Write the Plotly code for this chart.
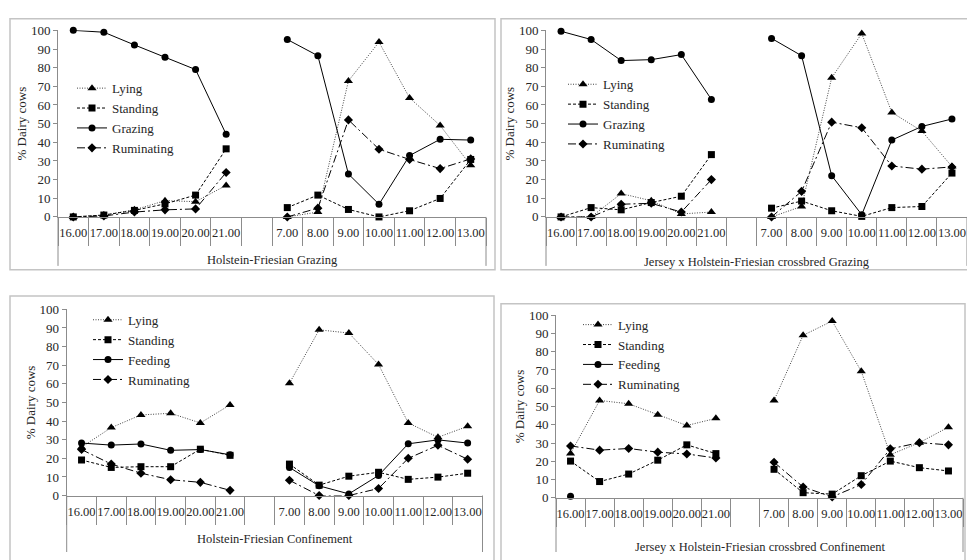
import plotly.graph_objects as go

W, H = 967, 560

times = ["16.00", "17.00", "18.00", "19.00", "20.00", "21.00", " ",
         "7.00", "8.00", "9.00", "10.00", "11.00", "12.00", "13.00"]

# Holstein-Friesian Grazing
hf_graz_lying = [0, 1, 3.8, 8.7, 8.2, 16.9, None, 0, 2.6, 72.9, 93.7, 63.8, 49, 27.7]
hf_graz_standing = [0, 1, 3.5, 7, 11.7, 36.5, None, 5, 11.7, 4, 0, 3.3, 9.9, 30.8]
hf_graz_grazing = [100, 99, 92.2, 85.6, 79, 44.3, None, 95.1, 86.4, 23, 6.8, 32.9, 41.6, 41.2]
hf_graz_rum = [0, 0.5, 2.6, 3.8, 4.3, 23.8, None, 0, 4.7, 52, 36.3, 30.8, 25.9, 31.1]

# Jersey x Holstein-Friesian crossbred Grazing
jx_graz_lying = [0, 0, 12.5, 8.7, 1.6, 2.6, None, 0, 5.6, 74.6, 98.3, 56, 46, 27]
jx_graz_standing = [0, 5, 3.8, 7.7, 11.1, 33.4, None, 4.7, 8.5, 3.3, 0.3, 5, 5.6, 23.5]
jx_graz_grazing = [99.5, 95.1, 83.8, 84.3, 87, 63, None, 95.7, 86.4, 22.1, 1.2, 41.2, 48.5, 52.5]
jx_graz_rum = [0, 0, 6.8, 7.3, 2.6, 20, None, 0, 13.7, 50.8, 47.8, 27.3, 25.6, 26.8]

# Holstein-Friesian Confinement
hf_conf_lying = [26, 36.5, 43.3, 44.2, 39, 48.7, None, 60.3, 89, 87.3, 70.4, 39, 31.3, 37.2]
hf_conf_standing = [19.1, 15.1, 15.5, 15.5, 24.9, 21.6, None, 16.9, 5.6, 10.4, 12.5, 8.7, 9.9, 12]
hf_conf_feeding = [28.2, 27.1, 27.7, 24.3, 24.7, 21.9, None, 15.1, 5.2, 0.9, 10.8, 27.8, 29.9, 28.2]
hf_conf_rum = [24.7, 16.9, 12, 8.5, 7.1, 2.8, None, 8.2, 0, 0, 3.8, 20, 27, 19.5]

# Jersey x Holstein-Friesian crossbred Confinement
jx_conf_lying = [24.2, 53.3, 51.5, 45.5, 39.6, 43.5, None, 53.3, 89, 96.8, 69.3, 23.6, 30.2, 38.7]
jx_conf_standing = [20.1, 8.9, 13, 20.6, 29, 24.2, None, 15.6, 2.8, 2, 12.1, 20.1, 16.5, 14.7]
jx_conf_feeding = [0.9, None, None, None, None, None, None, None, None, None, None, None, None, None]
jx_conf_rum = [28.4, 26.1, 27, 25, 24, 21.8, None, 19.5, 5.9, 0.5, 7.3, 26.8, 30.2, 29]

titles = ["Holstein-Friesian Grazing",
          "Jersey x Holstein-Friesian crossbred Grazing",
          "Holstein-Friesian Confinement",
          "Jersey x Holstein-Friesian crossbred Confinement"]

panels = [
    [("Lying", hf_graz_lying), ("Standing", hf_graz_standing),
     ("Grazing", hf_graz_grazing), ("Ruminating", hf_graz_rum)],
    [("Lying", jx_graz_lying), ("Standing", jx_graz_standing),
     ("Grazing", jx_graz_grazing), ("Ruminating", jx_graz_rum)],
    [("Lying", hf_conf_lying), ("Standing", hf_conf_standing),
     ("Feeding", hf_conf_feeding), ("Ruminating", hf_conf_rum)],
    [("Lying", jx_conf_lying), ("Standing", jx_conf_standing),
     ("Feeding", jx_conf_feeding), ("Ruminating", jx_conf_rum)],
]

styles = {
    "Lying": dict(symbol="triangle-up", size=8, dash="1px,1.5px", lc="#444"),
    "Standing": dict(symbol="square", size=7, dash="3px,2px", lc="#000"),
    "Grazing": dict(symbol="circle", size=7, dash="solid", lc="#000"),
    "Feeding": dict(symbol="circle", size=7, dash="solid", lc="#000"),
    "Ruminating": dict(symbol="diamond", size=7, dash="8px,3px,2px,3px", lc="#000"),
}

# geometry in pixels
geo = [
    dict(px=(58, 486), py0=215.7, py100=24, box=(10, 495, 12, 270), leg=(72, 68), lab=-43),
    dict(px=(546, 967), py0=215.7, py100=24, box=(501, 980, 12, 270), leg=(563, 64), lab=-45),
    dict(px=(66.7, 482.5), py0=502, py100=310.7, box=(10, 494, 297, 580), leg=(88, 306), lab=-43),
    dict(px=(556, 963), py0=504.3, py100=316.7, box=(501, 965, 305, 580), leg=(578, 311), lab=-49),
]

def fx(x):
    return x / W

def fy(y):
    return 1 - y / H

TXT = "#262626"
AX = "#8c8c8c"
FONT = "Liberation Serif"

fig = go.Figure()
layout = dict(width=W, height=H, margin=dict(l=0, r=0, t=0, b=0),
              paper_bgcolor="white", plot_bgcolor="white",
              font=dict(family=FONT, color=TXT, size=13),
              shapes=[], annotations=[])

for i, (series, g) in enumerate(zip(panels, geo)):
    n = i + 1
    xa = "x" if n == 1 else f"x{n}"
    ya = "y" if n == 1 else f"y{n}"
    lg = "legend" if n == 1 else f"legend{n}"
    for name, vals in series:
        st = styles[name]
        fig.add_trace(go.Scatter(
            x=times, y=vals, name=name, mode="lines+markers",
            xaxis=xa, yaxis=ya, legend=lg, connectgaps=False, cliponaxis=False,
            line=dict(color=st["lc"], width=1, dash=st["dash"]),
            marker=dict(symbol=st["symbol"], size=st["size"], color="#000"),
        ))
    xkey = "xaxis" if n == 1 else f"xaxis{n}"
    ykey = "yaxis" if n == 1 else f"yaxis{n}"
    layout[xkey] = dict(
        domain=[fx(g["px"][0]), min(1, fx(g["px"][1]))], anchor=ya,
        type="category", categoryorder="array", categoryarray=times,
        range=[-0.5, 13.5], tickson="boundaries", ticks="outside", ticklen=28,
        tickcolor=AX, showline=True, linecolor=AX, linewidth=1, showgrid=False,
        zeroline=False, ticklabelstandoff=4, tickangle=0,
        tickfont=dict(family=FONT, size=12.5, color=TXT), fixedrange=True)
    layout[ykey] = dict(
        domain=[fy(g["py0"]), fy(g["py100"])], anchor=xa, range=[0, 100],
        dtick=10, ticks="outside", ticklen=4, tickcolor=AX, showline=True,
        linecolor=AX, linewidth=1, showgrid=False, zeroline=False,
        tickfont=dict(family=FONT, size=13, color=TXT), fixedrange=True,
        title=dict(text="% Dairy cows", font=dict(family=FONT, size=13, color=TXT), standoff=1))
    layout[lg] = dict(
        x=fx(g["leg"][0]), y=fy(g["leg"][1]), xanchor="left", yanchor="top",
        bgcolor="rgba(0,0,0,0)", borderwidth=0, tracegroupgap=0,
        font=dict(family=FONT, size=13, color=TXT))
    bx0, bx1, by0, by1 = g["box"]
    layout["shapes"].append(dict(type="rect", xref="paper", yref="paper",
                                 x0=fx(bx0), x1=fx(bx1), y0=fy(by1), y1=fy(by0),
                                 line=dict(color="#c4c4c4", width=1.5), layer="below"))
    # category-axis bracket lines extending to the bottom of the panel
    for xd in (0, 1):
        layout["shapes"].append(dict(type="line", xref=f"{xa} domain", yref="paper",
                                     x0=xd, x1=xd, y0=fy(g["py0"]), y1=fy(min(by1 - 4, 560)),
                                     line=dict(color=AX, width=1)))
    layout["annotations"].append(dict(
        text=titles[i], xref=f"{xa} domain", yref=f"{ya} domain", x=0.5, y=0,
        xanchor="center", yanchor="middle", yshift=g["lab"], showarrow=False,
        font=dict(family=FONT, size=12.5, color=TXT)))

fig.update_layout(**layout)
fig.write_html("out.html", config={"displayModeBar": False},
               post_script="document.body.style.margin='0px';document.body.style.overflow='hidden';")
